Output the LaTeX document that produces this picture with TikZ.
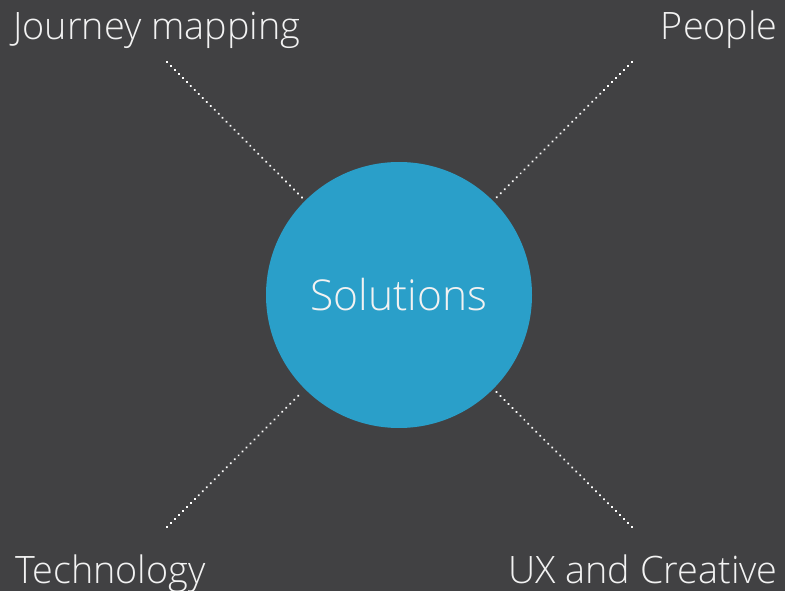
\documentclass[tikz,border=0pt]{standalone}
\usepackage{fontspec}
\setmainfont{Open Sans Light}
\usetikzlibrary{positioning}

\definecolor{bgdark}{HTML}{414143}
\definecolor{solblue}{HTML}{2A9FC9}
\definecolor{txtlight}{HTML}{F2F2F2}

\begin{document}
\begin{tikzpicture}[x=0.02cm, y=-0.02cm,
    lbl/.style={text=txtlight, font=\fontsize{21.5}{26}\selectfont, inner sep=0pt},
    hub/.style={circle, fill=solblue, minimum size=266*0.02cm, inner sep=0pt,
      text=txtlight, font=\fontsize{24.2}{28}\selectfont},
    link/.style={draw=white, line width=1.3pt, dash pattern=on 0.1pt off 3.1pt,
      line cap=round, shorten >=4*0.02cm}]
  % ---- background
  \fill[bgdark] (0,0) rectangle (785,591);
  \useasboundingbox (0,0) rectangle (785,591);
  % ---- centre
  \node[hub] (sol) at (399,295) {Solutions};
  % ---- corner labels
  \node[lbl, anchor=base west] (jm) at (13,40) {Journey mapping};
  \node[lbl, anchor=base east] (ppl) at (778,40) {People};
  \node[lbl, anchor=base west] (tech) at (15,583) {Technology};
  \node[lbl, anchor=base east] (ux) at (778,583) {UX and Creative};
  % ---- free ends of the spokes
  \coordinate (jm-end) at (167,62);
  \coordinate (ppl-end) at (632,62);
  \coordinate (tech-end) at (167,527);
  \coordinate (ux-end) at (632,527);
  \draw[link] (jm-end) -- (sol);
  \draw[link] (ppl-end) -- (sol);
  \draw[link] (tech-end) -- (sol);
  \draw[link] (ux-end) -- (sol);
\end{tikzpicture}
\end{document}
